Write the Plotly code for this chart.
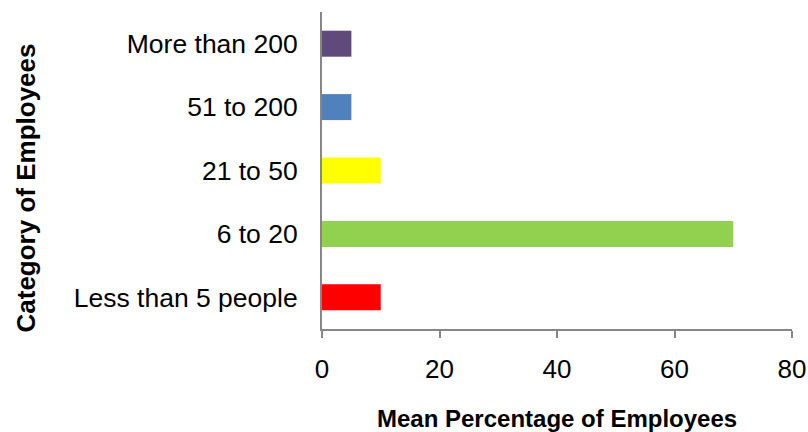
import plotly.graph_objects as go

categories = ["Less than 5 people", "6 to 20", "21 to 50", "51 to 200", "More than 200"]
values = [10, 70, 10, 5, 5]
colors = ["#FF0000", "#92D050", "#FFFF00", "#4F81BD", "#604A7B"]
x_ticks = [0, 20, 40, 60, 80]

fig = go.Figure(go.Bar(
    y=categories, x=values, orientation="h",
    marker=dict(color=colors, line=dict(width=0)),
    width=0.41,
))

font = "Liberation Sans, Arial, sans-serif"
fig.update_layout(
    width=808, height=432,
    margin=dict(l=322, r=16, t=12, b=103),
    plot_bgcolor="white", paper_bgcolor="white",
    showlegend=False,
    font=dict(family=font, color="black"),
    xaxis=dict(range=[0, 80], tickvals=x_ticks, showgrid=False, zeroline=False,
               showline=True, linecolor="#868686", linewidth=2, automargin=False,
               ticks="outside", ticklen=7, tickwidth=2, tickcolor="#868686",
               tickfont=dict(size=26, family=font), ticklabelstandoff=9),
    yaxis=dict(showgrid=False, zeroline=False, showline=True, linecolor="#868686",
               linewidth=2, ticks="", tickfont=dict(size=26.5, family=font), automargin=False,
               ticklabelstandoff=17, categoryorder="array", categoryarray=categories),
    annotations=[
        dict(text="<b>Mean Percentage of Employees</b>", xref="paper", yref="paper",
             x=0.5, y=-(418 - 329) / 317, yanchor="middle", xanchor="center", showarrow=False,
             font=dict(size=24, family=font)),
        dict(text="<b>Category of Employees</b>", xref="paper", yref="paper",
             x=(25 - 322) / 470, y=(329 - 188.5) / 317, xanchor="center", yanchor="middle",
             textangle=-90, showarrow=False, font=dict(size=26, family=font)),
    ],
)
fig.write_html("out.html")
